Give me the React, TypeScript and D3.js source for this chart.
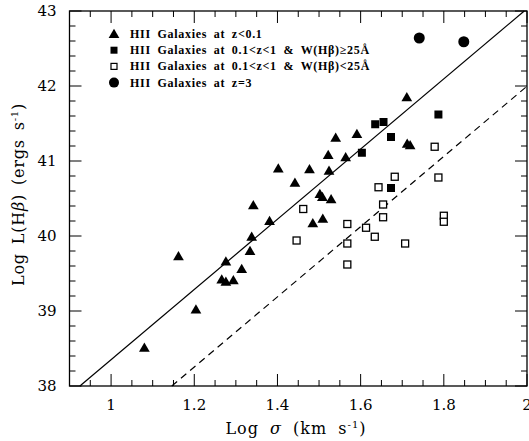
import React from 'react';
import * as d3 from 'd3';

// Log sigma / Log L(Hbeta)
const triX = [1.080, 1.162, 1.204, 1.266, 1.276, 1.294, 1.276, 1.314, 1.334, 1.338, 1.342, 1.381, 1.402, 1.442,
  1.477, 1.485, 1.509, 1.502, 1.508, 1.529, 1.524, 1.522, 1.540, 1.564, 1.591, 1.711, 1.712, 1.719];
const triY = [38.51, 39.73, 39.02, 39.42, 39.39, 39.41, 39.66, 39.56, 39.80, 39.99, 40.41, 40.20, 40.90, 40.71,
  40.89, 40.17, 40.23, 40.56, 40.52, 40.49, 40.87, 41.08, 41.31, 41.05, 41.36, 41.85, 41.23, 41.21];

const sqFillX = [1.635, 1.655, 1.673, 1.603, 1.787, 1.673];
const sqFillY = [41.49, 41.52, 41.32, 41.11, 41.62, 40.64];

const sqOpenX = [1.462, 1.446, 1.568, 1.568, 1.568, 1.613, 1.634, 1.643, 1.654, 1.654, 1.682, 1.707, 1.778, 1.787, 1.800, 1.800];
const sqOpenY = [40.36, 39.94, 40.16, 39.90, 39.62, 40.11, 39.99, 40.65, 40.42, 40.25, 40.79, 39.90, 41.19, 40.78, 40.27, 40.19];

const circX = [1.741, 1.848];
const circY = [42.64, 42.59];

// fitted relations: log L = slope * log sigma + intercept
const slope = 4.68;
const solidIntercept = 33.671;
const dashedIntercept = 32.637;

const xTicks = [1, 1.2, 1.4, 1.6, 1.8, 2];
const yTicks = [38, 39, 40, 41, 42, 43];

const legendLabels = [
  'HII Galaxies at z<0.1',
  'HII Galaxies at 0.1<z<1 & W(Hβ)≥25Å',
  'HII Galaxies at 0.1<z<1 & W(Hβ)<25Å',
  'HII Galaxies at z=3',
];

const W = 529, H = 441;
const left = 69.5, right = 527, top = 11, bottom = 386;

export default function App() {
  const x = d3.scaleLinear().domain([0.9, 2]).range([left, right]);
  const y = d3.scaleLinear().domain([38, 43]).range([bottom, top]);

  const tri = d3.symbol().type(d3.symbolTriangle).size(50)();
  const xMinor = d3.range(0.9, 2.0001, 0.05);
  const yMinor = d3.range(38, 43.0001, 0.2);

  const lineFor = (b: number) => {
    // clip to frame
    const x0 = Math.max(0.9, (38 - b) / slope);
    const x1 = Math.min(2, (43 - b) / slope);
    return d3.line<number>()(
      [[x(x0), y(slope * x0 + b)], [x(x1), y(slope * x1 + b)]] as any
    );
  };

  const serif = '"DejaVu Serif", serif';
  const legSerif = '"Liberation Serif", serif';

  return (
    <svg width={W} height={H} style={{ position: 'absolute', left: 0, top: 0, background: '#fff' }}>
      <rect x={left} y={top} width={right - left} height={bottom - top} fill="none" stroke="#000" strokeWidth={1.3} />
      {/* x ticks */}
      {xMinor.map((v, i) => {
        const major = xTicks.some(t => Math.abs(t - v) < 1e-6);
        const len = major ? 12 : 6;
        return (
          <g key={'xt' + i} stroke="#000" strokeWidth={1}>
            <line x1={x(v)} x2={x(v)} y1={bottom} y2={bottom - len} />
            <line x1={x(v)} x2={x(v)} y1={top} y2={top + len} />
          </g>
        );
      })}
      {yMinor.map((v, i) => {
        const major = yTicks.some(t => Math.abs(t - v) < 1e-6);
        const len = major ? 12 : 6;
        return (
          <g key={'yt' + i} stroke="#000" strokeWidth={1}>
            <line x1={left} x2={left + len} y1={y(v)} y2={y(v)} />
            <line x1={right} x2={right - len} y1={y(v)} y2={y(v)} />
          </g>
        );
      })}
      {xTicks.map(t => (
        <text key={'xl' + t} x={x(t)} y={bottom + 24} textAnchor="middle" fontFamily={serif} fontSize={15}>{t}</text>
      ))}
      {yTicks.map(t => (
        <text key={'yl' + t} x={left - 13} y={y(t) + 5} textAnchor="end" fontFamily={serif} fontSize={15}>{t}</text>
      ))}
      <text x={296} y={H - 7} textAnchor="middle" fontFamily={serif} fontSize={16} letterSpacing={1} wordSpacing={5}>
        Log <tspan fontStyle="italic">σ</tspan> (km s<tspan dy={-6} fontSize={10}>-1</tspan><tspan dy={6}>)</tspan>
      </text>
      <text transform={`translate(24,${(top + bottom) / 2 - 4}) rotate(-90)`} textAnchor="middle" fontFamily={serif} fontSize={16} letterSpacing={0.8} wordSpacing={3}>
        Log L(H<tspan fontStyle="italic">β</tspan>) (ergs s<tspan dy={-6} fontSize={10}>-1</tspan><tspan dy={6}>)</tspan>
      </text>

      <path d={lineFor(solidIntercept) || ''} stroke="#000" strokeWidth={1.2} fill="none" />
      <path d={lineFor(dashedIntercept) || ''} stroke="#000" strokeWidth={1.2} fill="none" strokeDasharray="7,5" />

      {triX.map((v, i) => (
        <path key={'tr' + i} d={tri} transform={`translate(${x(v)},${y(triY[i]) + 1})`} fill="#000" />
      ))}
      {sqFillX.map((v, i) => (
        <rect key={'sf' + i} x={x(v) - 4} y={y(sqFillY[i]) - 4} width={8} height={8} fill="#000" />
      ))}
      {sqOpenX.map((v, i) => (
        <rect key={'so' + i} x={x(v) - 3.5} y={y(sqOpenY[i]) - 3.5} width={7} height={7} fill="#fff" stroke="#000" strokeWidth={1.3} />
      ))}
      {circX.map((v, i) => (
        <circle key={'c' + i} cx={x(v)} cy={y(circY[i])} r={5.5} fill="#000" />
      ))}

      <g fontFamily={legSerif} fontWeight="bold" fontSize={12}>
        {legendLabels.map((l, i) => {
          const ly = 34 + i * 16.2;
          return (
            <g key={'lg' + i}>
              {i === 0 && <path d={tri} transform={`translate(114,${ly + 1})`} fill="#000" />}
              {i === 1 && <rect x={110.5} y={ly - 3.5} width={7} height={7} fill="#000" />}
              {i === 2 && <rect x={111} y={ly - 3} width={6} height={6} fill="#fff" stroke="#000" strokeWidth={1.2} />}
              {i === 3 && <circle cx={114} cy={ly} r={5} fill="#000" />}
              <text x={130} y={ly + 4} letterSpacing={0.7} wordSpacing={3}>{l}</text>
            </g>
          );
        })}
      </g>
    </svg>
  );
}
